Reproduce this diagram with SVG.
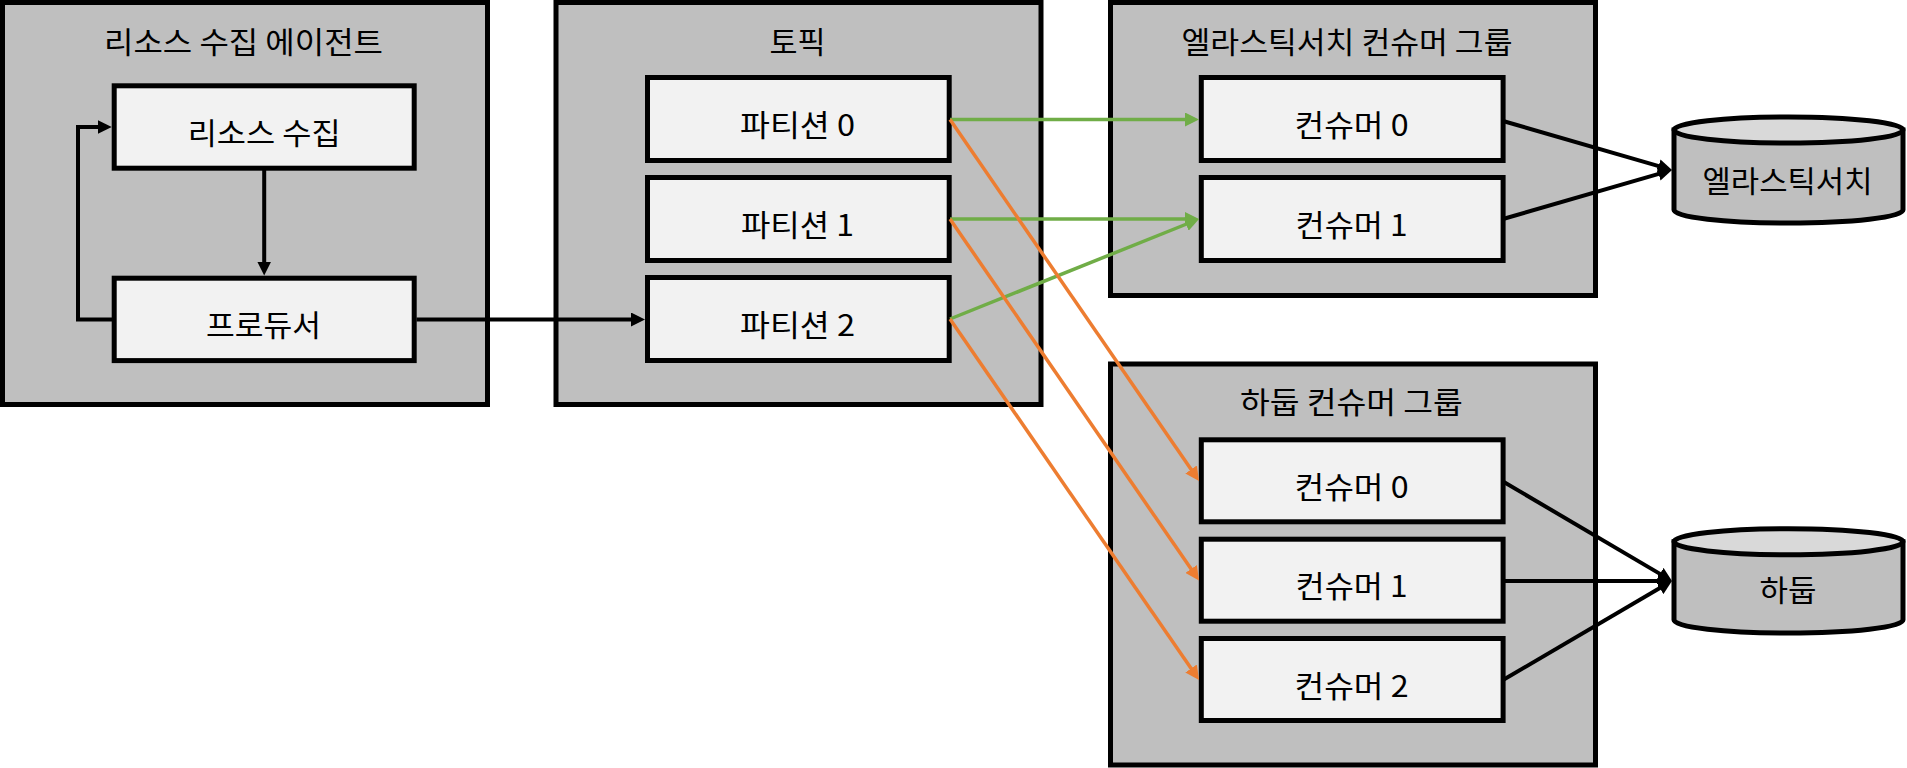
<svg xmlns="http://www.w3.org/2000/svg" width="1907" height="768" viewBox="0 0 1907 768">
<defs>
<style>
.grp{fill:#bfbfbf;stroke:#000;stroke-width:5}
.box{fill:#f2f2f2;stroke:#000;stroke-width:5}
.cyl{fill:#bfbfbf;stroke:#000;stroke-width:5}
.cyltop{fill:#d9d9d9;stroke:#000;stroke-width:5}
text{font-family:"Noto Sans CJK KR","Noto Sans",sans-serif;font-size:30px;fill:#000;text-anchor:middle}
.blk{fill:none;stroke:#000;stroke-width:4}
.grn{fill:none;stroke:#70ad47;stroke-width:3.5}
.org{fill:none;stroke:#ed7d31;stroke-width:3.5}
</style>
<marker id="mb" markerUnits="userSpaceOnUse" viewBox="0 0 14 14" markerWidth="14" markerHeight="14" refX="2" refY="7" orient="auto"><path d="M0,0 L14,7 L0,14 z" fill="#000"/></marker>
<marker id="mg" markerUnits="userSpaceOnUse" viewBox="0 0 14 14" markerWidth="14" markerHeight="14" refX="2" refY="7" orient="auto"><path d="M0,0 L14,7 L0,14 z" fill="#70ad47"/></marker>
<marker id="mo" markerUnits="userSpaceOnUse" viewBox="0 0 14 14" markerWidth="14" markerHeight="14" refX="2" refY="7" orient="auto"><path d="M0,0 L14,7 L0,14 z" fill="#ed7d31"/></marker>
</defs>

<g id="agent">
<rect class="grp" x="2.5" y="2.5" width="485" height="402"/>
<text x="243.5" y="52.5" textLength="279" lengthAdjust="spacingAndGlyphs">리소스 수집 에이전트</text>
</g>
<g id="collect">
<rect class="box" x="114.2" y="85.8" width="300" height="82.4"/>
<text x="264.2" y="143.5" textLength="153" lengthAdjust="spacingAndGlyphs">리소스 수집</text>
</g>
<g id="producer">
<rect class="box" x="114.2" y="278.2" width="300" height="82.4"/>
<text x="263.5" y="336" textLength="115" lengthAdjust="spacingAndGlyphs">프로듀서</text>
</g>

<g id="topic">
<rect class="grp" x="556" y="2.5" width="485" height="402"/>
<text x="797.5" y="52.5" textLength="56" lengthAdjust="spacingAndGlyphs">토픽</text>
</g>
<g id="partition0">
<rect class="box" x="647.5" y="77.5" width="301.7" height="83"/>
<text x="797.5" y="136" textLength="115" lengthAdjust="spacingAndGlyphs">파티션 0</text>
</g>
<g id="partition1">
<rect class="box" x="647.5" y="177.5" width="301.7" height="83"/>
<text x="797.5" y="236" textLength="113" lengthAdjust="spacingAndGlyphs">파티션 1</text>
</g>
<g id="partition2">
<rect class="box" x="647.5" y="277.5" width="301.7" height="83"/>
<text x="797.5" y="336" textLength="115" lengthAdjust="spacingAndGlyphs">파티션 2</text>
</g>

<g id="es-group">
<rect class="grp" x="1110.5" y="2.5" width="485" height="293"/>
<text x="1347" y="52.5" textLength="331" lengthAdjust="spacingAndGlyphs">엘라스틱서치 컨슈머 그룹</text>
</g>
<g id="es-consumer0">
<rect class="box" x="1201.3" y="77.5" width="301.8" height="83"/>
<text x="1351.6" y="136" textLength="114" lengthAdjust="spacingAndGlyphs">컨슈머 0</text>
</g>
<g id="es-consumer1">
<rect class="box" x="1201.3" y="177.5" width="301.8" height="83"/>
<text x="1351.6" y="236" textLength="112" lengthAdjust="spacingAndGlyphs">컨슈머 1</text>
</g>

<g id="hadoop-group">
<rect class="grp" x="1110.5" y="364" width="485" height="401"/>
<text x="1351.4" y="413" textLength="223" lengthAdjust="spacingAndGlyphs">하둡 컨슈머 그룹</text>
</g>
<g id="hd-consumer0">
<rect class="box" x="1201.3" y="439.8" width="301.8" height="82"/>
<text x="1351.6" y="497.5" textLength="114" lengthAdjust="spacingAndGlyphs">컨슈머 0</text>
</g>
<g id="hd-consumer1">
<rect class="box" x="1201.3" y="539.2" width="301.8" height="82"/>
<text x="1351.6" y="597" textLength="112" lengthAdjust="spacingAndGlyphs">컨슈머 1</text>
</g>
<g id="hd-consumer2">
<rect class="box" x="1201.3" y="638.5" width="301.8" height="82"/>
<text x="1351.6" y="696.5" textLength="114" lengthAdjust="spacingAndGlyphs">컨슈머 2</text>
</g>

<g id="elasticsearch">
<path class="cyl" d="M1674,130 L1674,210 A114.5,13 0 0 0 1903,210 L1903,130 Z"/>
<ellipse class="cyltop" cx="1788.5" cy="130" rx="114.5" ry="13"/>
<text x="1787.5" y="191.5" textLength="170" lengthAdjust="spacingAndGlyphs">엘라스틱서치</text>
</g>
<g id="hadoop">
<path class="cyl" d="M1674,541.7 L1674,620 A114.5,13 0 0 0 1903,620 L1903,541.7 Z"/>
<ellipse class="cyltop" cx="1788.5" cy="541.7" rx="114.5" ry="13"/>
<text x="1788" y="601" textLength="57" lengthAdjust="spacingAndGlyphs">하둡</text>
</g>

<g id="connectors">
<path class="blk" d="M264.2,168.2 V263.5" marker-end="url(#mb)"/>
<path class="blk" d="M112,319.5 H78 V127 H99.7" marker-end="url(#mb)"/>
<path class="blk" d="M416.5,319.5 H633" marker-end="url(#mb)"/>
<path class="grn" d="M950,119.5 H1187" marker-end="url(#mg)"/>
<path class="grn" d="M950,219 H1187" marker-end="url(#mg)"/>
<path class="grn" d="M950,319 L1187.9,223.5" marker-end="url(#mg)"/>
<path class="org" d="M950,119.5 L1192.2,471.1" marker-end="url(#mo)"/>
<path class="org" d="M950,219 L1192.2,570.6" marker-end="url(#mo)"/>
<path class="org" d="M950,319 L1192.2,670.1" marker-end="url(#mo)"/>
<path class="blk" d="M1503,121 L1660.5,166.7" marker-end="url(#mb)"/>
<path class="blk" d="M1503,219 L1660.5,173.3" marker-end="url(#mb)"/>
<path class="blk" d="M1503,481.5 L1661.7,574.9" marker-end="url(#mb)"/>
<path class="blk" d="M1503,581 H1660" marker-end="url(#mb)"/>
<path class="blk" d="M1503,680 L1661.6,587.1" marker-end="url(#mb)"/>
</g>
</svg>
